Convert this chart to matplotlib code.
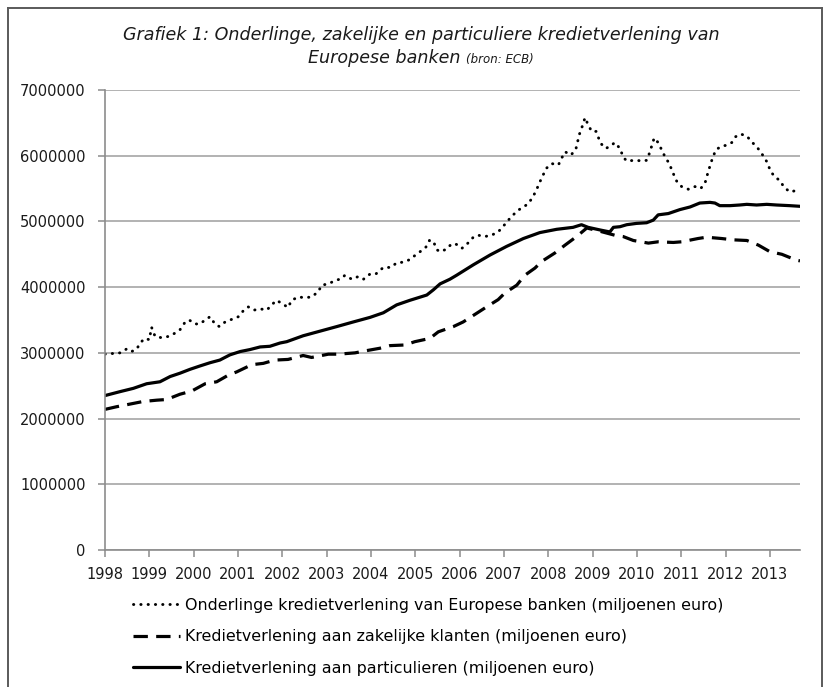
import numpy as np
import matplotlib
matplotlib.use("Agg")
import matplotlib.pyplot as plt
from matplotlib.lines import Line2D
from matplotlib.ticker import FuncFormatter

# values, in miljoenen euro (x = decimal year)
interbank_t = [1998.00, 1998.34, 1998.49, 1998.60, 1998.72, 1998.79, 1998.90, 1999.00, 1999.05, 1999.13,
               1999.28, 1999.43, 1999.58, 1999.69, 1999.80, 1999.90, 2000.03, 2000.14, 2000.26, 2000.37,
               2000.48, 2000.58, 2000.71, 2000.86, 2001.01, 2001.12, 2001.23, 2001.36, 2001.50, 2001.65,
               2001.76, 2001.87, 2002.02, 2002.13, 2002.21, 2002.36, 2002.51, 2002.66, 2002.81, 2002.89,
               2003.04, 2003.19, 2003.34, 2003.41, 2003.57, 2003.71, 2003.83, 2003.98, 2004.11, 2004.28,
               2004.45, 2004.58, 2004.73, 2004.88, 2004.95, 2005.11, 2005.24, 2005.32, 2005.41, 2005.48,
               2005.57, 2005.71, 2005.82, 2005.93, 2006.05, 2006.16, 2006.31, 2006.42, 2006.57, 2006.72,
               2006.87, 2006.99, 2007.10, 2007.21, 2007.32, 2007.44, 2007.55, 2007.66, 2007.74, 2007.85,
               2007.96, 2008.08, 2008.23, 2008.30, 2008.38, 2008.51, 2008.62, 2008.70, 2008.78, 2008.83,
               2008.90, 2008.98, 2009.08, 2009.18, 2009.30, 2009.43, 2009.50, 2009.62, 2009.69, 2009.77,
               2009.96, 2010.14, 2010.22, 2010.29, 2010.39, 2010.48, 2010.56, 2010.63, 2010.73, 2010.82,
               2010.90, 2011.01, 2011.16, 2011.31, 2011.44, 2011.54, 2011.61, 2011.69, 2011.78, 2011.90,
               2012.02, 2012.14, 2012.23, 2012.34, 2012.48, 2012.59, 2012.70, 2012.81, 2012.93, 2013.02,
               2013.11, 2013.23, 2013.32, 2013.45, 2013.60, 2013.68]
interbank_v = [2.98, 3.00, 3.06, 3.02, 3.06, 3.15, 3.22, 3.20, 3.39, 3.25,
               3.23, 3.25, 3.30, 3.35, 3.46, 3.50, 3.44, 3.44, 3.50, 3.55,
               3.44, 3.40, 3.47, 3.51, 3.55, 3.64, 3.70, 3.65, 3.67, 3.65,
               3.73, 3.80, 3.74, 3.69, 3.80, 3.85, 3.84, 3.85, 3.93, 4.03,
               4.05, 4.10, 4.13, 4.18, 4.12, 4.16, 4.12, 4.20, 4.20, 4.30,
               4.30, 4.37, 4.38, 4.42, 4.46, 4.54, 4.61, 4.71, 4.70, 4.57,
               4.54, 4.58, 4.66, 4.65, 4.59, 4.65, 4.76, 4.79, 4.77, 4.79,
               4.84, 4.93, 5.02, 5.10, 5.17, 5.22, 5.27, 5.38, 5.49, 5.66,
               5.81, 5.88, 5.86, 5.96, 6.06, 6.01, 6.09, 6.32, 6.47, 6.58,
               6.47, 6.37, 6.37, 6.19, 6.11, 6.16, 6.20, 6.11, 5.98, 5.92,
               5.93, 5.92, 5.93, 6.05, 6.27, 6.20, 6.09, 5.99, 5.88, 5.73,
               5.61, 5.53, 5.49, 5.53, 5.50, 5.59, 5.76, 5.93, 6.09, 6.14,
               6.16, 6.20, 6.29, 6.33, 6.30, 6.21, 6.14, 6.04, 5.91, 5.76,
               5.68, 5.62, 5.52, 5.45, 5.47, 5.47]

business_t = [1998.00, 1998.26, 1998.56, 1998.86, 1999.17, 1999.39, 1999.69, 1999.96, 2000.26, 2000.52,
              2000.78, 2000.97, 2001.31, 2001.57, 2001.83, 2002.13, 2002.47, 2002.66, 2003.04, 2003.26,
              2003.64, 2003.87, 2004.20, 2004.43, 2004.77, 2004.99, 2005.33, 2005.52, 2005.86, 2006.08,
              2006.38, 2006.61, 2006.87, 2007.02, 2007.29, 2007.47, 2007.70, 2007.85, 2008.15, 2008.38,
              2008.64, 2008.87, 2009.17, 2009.50, 2009.69, 2009.92, 2010.26, 2010.48, 2010.82, 2011.01,
              2011.38, 2011.57, 2011.91, 2012.17, 2012.48, 2012.74, 2013.00, 2013.27, 2013.60, 2013.68]
business_v = [2.14, 2.18, 2.22, 2.26, 2.28, 2.29, 2.37, 2.42, 2.53, 2.56,
              2.66, 2.71, 2.82, 2.84, 2.89, 2.90, 2.96, 2.93, 2.98, 2.98,
              3.00, 3.03, 3.07, 3.11, 3.12, 3.17, 3.22, 3.32, 3.40, 3.47,
              3.60, 3.70, 3.81, 3.91, 4.03, 4.18, 4.29, 4.39, 4.52, 4.64,
              4.77, 4.90, 4.85, 4.79, 4.77, 4.71, 4.67, 4.69, 4.68, 4.69,
              4.74, 4.76, 4.74, 4.72, 4.71, 4.64, 4.54, 4.50, 4.41, 4.40]

private_t = [1998.00, 1998.34, 1998.64, 1998.94, 1999.24, 1999.47, 1999.69, 1999.92, 2000.14, 2000.37,
             2000.59, 2000.82, 2001.05, 2001.27, 2001.50, 2001.72, 2001.95, 2002.10, 2002.47, 2002.85,
             2003.23, 2003.60, 2003.98, 2004.28, 2004.58, 2004.88, 2005.26, 2005.41, 2005.56, 2005.78,
             2005.93, 2006.31, 2006.69, 2007.06, 2007.44, 2007.81, 2008.19, 2008.56, 2008.75, 2008.90,
             2009.17, 2009.39, 2009.47, 2009.62, 2009.77, 2009.99, 2010.22, 2010.37, 2010.48, 2010.71,
             2010.97, 2011.20, 2011.42, 2011.65, 2011.76, 2011.87, 2012.10, 2012.32, 2012.48, 2012.70,
             2012.93, 2013.15, 2013.45, 2013.68]
private_v = [2.35, 2.41, 2.46, 2.53, 2.56, 2.64, 2.69, 2.75, 2.80, 2.85,
             2.89, 2.97, 3.02, 3.05, 3.09, 3.10, 3.15, 3.17, 3.26, 3.33,
             3.40, 3.47, 3.54, 3.61, 3.73, 3.80, 3.88, 3.96, 4.05, 4.12,
             4.18, 4.34, 4.49, 4.62, 4.74, 4.83, 4.88, 4.91, 4.95, 4.91,
             4.87, 4.84, 4.91, 4.92, 4.95, 4.97, 4.98, 5.02, 5.10, 5.12,
             5.18, 5.22, 5.28, 5.29, 5.28, 5.24, 5.24, 5.25, 5.26, 5.25,
             5.26, 5.25, 5.24, 5.23]
scale = 1e6  # chart shows the numbers in full

labels = ["Onderlinge kredietverlening van Europese banken (miljoenen euro)",
          "Kredietverlening aan zakelijke klanten (miljoenen euro)",
          "Kredietverlening aan particulieren (miljoenen euro)"]
years = list(range(1998, 2014))
yticks = [0, 1000000, 2000000, 3000000, 4000000, 5000000, 6000000, 7000000]

plt.rcParams['font.family'] = ['DejaVu Sans']
W, H = 829, 687
fig = plt.figure(figsize=(W / 100, H / 100), dpi=100)
ax = fig.add_axes([105 / W, 1 - 550 / H, 695 / W, 460 / H])

ax.plot(interbank_t, np.array(interbank_v) * scale, color='black', lw=2.1,
        linestyle=(0, (0.1, 2.4)), dash_capstyle='round', label=labels[0])
ax.plot(business_t, np.array(business_v) * scale, color='black', lw=2.3,
        linestyle=(0, (4.5, 2.6)), label=labels[1])
ax.plot(private_t, np.array(private_v) * scale, color='black', lw=2.3,
        solid_capstyle='round', label=labels[2])

ax.set_xlim(1998, 2013.68)
ax.set_ylim(0, 7000000)
ax.set_xticks(years)
ax.set_yticks(yticks)
ax.yaxis.set_major_formatter(FuncFormatter(lambda v, p: f"{v:.0f}"))
ax.grid(axis='y', color='#a6a6a6', lw=1.2)
ax.set_axisbelow(True)
for s in ['top', 'right']:
    ax.spines[s].set_visible(False)
for s in ['left', 'bottom']:
    ax.spines[s].set_color('#8c8c8c')
    ax.spines[s].set_linewidth(1.2)
ax.tick_params(direction='out', length=5, width=1.1, color='#8c8c8c',
               labelsize=10.5, labelcolor='#1a1a1a')
ax.tick_params(axis='y', pad=9)
ax.tick_params(axis='x', pad=7)

# title, two lines, the source note smaller
fig.text(421 / W, 1 - 40 / H, "Grafiek 1: Onderlinge, zakelijke en particuliere kredietverlening van",
         ha='center', va='baseline', style='italic', fontsize=12.6, color='#1a1a1a')
t1 = fig.text(0, 1 - 63 / H, "Europese banken", ha='left', va='baseline',
              style='italic', fontsize=12.6, color='#1a1a1a')
t2 = fig.text(0, 1 - 63 / H, "(bron: ECB)", ha='left', va='baseline',
              style='italic', fontsize=8.5, color='#1a1a1a')
r = fig.canvas.get_renderer()
w1 = t1.get_window_extent(r).width
w2 = t2.get_window_extent(r).width
gap = 6
x0 = 421 - (w1 + gap + w2) / 2
t1.set_x(x0 / W)
t2.set_x((x0 + w1 + gap) / W)

fig.legend(loc='upper left', bbox_to_anchor=(133 / W, 1 - 598 / H), frameon=False,
           fontsize=11.4, handlelength=3.0, handletextpad=0.3, labelspacing=1.04,
           borderpad=0, borderaxespad=0)

# outer frame (bottom edge is cut off in the reference)
fc = '#5a5a5a'
fig.add_artist(Line2D([8 / W, 8 / W], [0, 1 - 8 / H], transform=fig.transFigure, color=fc, lw=1.4))
fig.add_artist(Line2D([8 / W, 822 / W], [1 - 8 / H, 1 - 8 / H], transform=fig.transFigure, color=fc, lw=1.4))
fig.add_artist(Line2D([822 / W, 822 / W], [0, 1 - 8 / H], transform=fig.transFigure, color=fc, lw=1.4))

fig.savefig("out.png", dpi=100, facecolor='white')
